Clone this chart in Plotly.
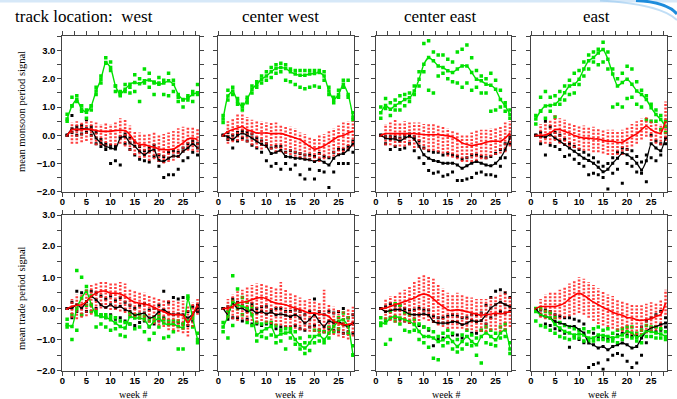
import plotly.graph_objects as go

weeks = list(range(1, 29))
locations = ["west", "center west", "center east", "east"]
x_tick_vals = [0, 2.5, 5, 7.5, 10, 12.5, 15, 17.5, 20, 22.5, 25, 27.5]
x_tick_text = ["0", "", "5", "", "10", "", "15", "", "20", "", "25", ""]
y_tick_vals = [-2, -1.5, -1, -0.5, 0, 0.5, 1, 1.5, 2, 2.5, 3, 3.5]
y_tick_text = ["\u22122.0", "", "\u22121.0", "", "0.0", "", "1.0", "", "2.0", "", "3.0", ""]

# ---------------- monsoon period, west
M_W_green = [0.58,1.04,1.27,0.92,0.82,1.04,1.57,1.99,2.58,2.40,1.75,1.45,1.63,1.81,1.87,1.83,1.93,1.96,1.89,1.81,1.85,1.93,1.81,1.45,1.27,1.33,1.45,1.51]
M_W_green_lo = [0.5,1.05,1.2,0.85,0.6,0.9,1.45,1.85,2.55,2.3,1.55,1.4,1.55,1.5,1.55,1.2,1.85,1.7,1.45,1.85,1.45,1.4,1.55,1.2,1.0,1.25,1.2,1.45]
M_W_green_hi = [0.75,1.35,1.4,1.05,0.9,1.05,1.7,2.1,2.75,2.6,1.75,1.55,1.8,1.7,2.15,2.0,2.35,2.2,1.85,2.05,1.95,2.2,1.95,1.35,1.25,1.4,1.55,1.8]
M_W_red = [0,0.2,0.2,0.2,0.22,0.2,0.17,0.14,0.14,0.14,0.17,0.18,0.17,0.02,-0.21,-0.33,-0.33,-0.39,-0.42,-0.49,-0.51,-0.51,-0.49,-0.39,-0.27,-0.13,-0.1,-0.15]
M_W_red_lo = [-0.05,-0.3,-0.3,-0.25,-0.2,-0.3,-0.35,-0.35,-0.4,-0.35,-0.35,-0.3,-0.4,-0.55,-0.7,-0.8,-0.8,-0.9,-0.85,-0.95,-1.0,-0.95,-0.9,-0.8,-0.6,-0.55,-0.55,-0.6]
M_W_red_hi = [0.05,0.45,0.5,0.5,0.55,0.5,0.45,0.4,0.45,0.4,0.45,0.6,0.55,0.35,0.15,0.1,0.05,0.05,0.1,0.0,0.05,0.1,0.15,0.25,0.3,0.3,0.3,0.25]
M_W_black = [0.0,0.23,0.20,0.23,0.23,0.20,-0.10,-0.27,-0.39,-0.45,-0.49,-0.10,-0.04,-0.27,-0.39,-0.57,-0.69,-0.57,-0.51,-0.89,-0.93,-0.81,-0.73,-0.75,-0.57,-0.45,-0.30,-0.45]
M_W_black_lo = [0,0.1,0.0,0.05,0.1,0.0,-0.3,-0.4,-0.5,-1.0,-0.9,-1.05,-0.3,-0.5,-0.7,-0.85,-0.9,-0.95,-0.75,-1.1,-1.5,-1.4,-1.4,-1.2,-0.9,-0.8,-0.6,-0.7]
M_W_black_hi = [0,0.7,0.3,0.35,0.55,0.3,0.1,-0.15,-0.3,-0.35,-0.4,-0.05,0.05,-0.1,-0.25,-0.4,-0.55,-0.45,-0.35,-0.7,-0.75,-0.6,-0.55,-0.6,-0.45,-0.3,-0.2,-0.3]

# ---------------- monsoon period, center west
M_CW_green = [0.58,1.39,1.57,1.21,1.01,1.27,1.63,1.81,1.99,2.10,2.25,2.37,2.40,2.37,2.25,2.17,2.13,2.13,2.17,2.19,2.23,2.10,1.57,1.27,1.45,1.81,1.45,0.65]
M_CW_green_lo = [0.45,1.25,1.45,1.1,0.9,1.15,1.5,1.7,1.85,1.95,2.05,2.2,2.25,1.95,1.9,1.8,1.7,1.65,1.7,1.75,1.7,1.95,1.45,1.15,1.35,1.7,1.35,0.55]
M_CW_green_hi = [0.7,1.6,1.7,1.3,1.1,1.35,1.75,1.9,2.1,2.25,2.4,2.5,2.55,2.5,2.35,2.3,2.3,2.3,2.3,2.3,2.3,2.25,1.7,1.35,1.6,1.95,1.95,0.8]
M_CW_red = [0,0.14,0.2,0.26,0.3,0.2,0.14,0.08,0.08,0.08,0.06,0.06,0.06,0.02,-0.04,-0.1,-0.15,-0.27,-0.39,-0.49,-0.45,-0.37,-0.27,-0.15,-0.04,-0.01,0.08,0.14]
M_CW_red_lo = [-0.05,-0.3,-0.25,-0.2,-0.2,-0.25,-0.35,-0.45,-0.5,-0.45,-0.5,-0.6,-0.6,-0.65,-0.7,-0.75,-0.8,-0.85,-0.9,-0.95,-0.95,-0.85,-0.8,-0.75,-0.7,-0.6,-0.5,-0.4]
M_CW_red_hi = [0.05,0.5,0.6,0.75,0.8,0.65,0.55,0.5,0.5,0.45,0.45,0.45,0.35,0.35,0.3,0.25,0.1,0.05,-0.05,-0.1,0.0,0.05,0.15,0.25,0.35,0.45,0.5,0.5]
M_CW_black = [0,-0.04,-0.15,-0.01,0.08,0,-0.1,-0.21,-0.33,-0.39,-0.65,-0.6,-0.54,-0.75,-0.77,-0.81,-0.81,-0.85,-0.87,-0.93,-0.87,-0.96,-1.05,-0.81,-0.69,-0.65,-0.51,-0.3]
M_CW_black_lo = [0,-0.15,-0.45,-0.2,-0.1,-0.2,-0.35,-0.45,-0.6,-0.9,-1.1,-1.0,-1.2,-1.0,-1.2,-1.05,-1.4,-1.55,-1.2,-1.55,-1.25,-1.3,-1.85,-1.3,-1.0,-1.0,-1.0,-0.6]
M_CW_black_hi = [0,0.1,0.0,0.1,0.15,0.1,0.05,-0.1,-0.2,-0.3,-0.45,-0.4,-0.4,-0.6,-0.55,-0.6,-0.65,-0.7,-0.7,-0.75,-0.65,-0.75,-0.8,-0.6,-0.5,-0.5,-0.4,-0.2]

# ---------------- monsoon period, center east
M_CE_green = [0.8,1.06,0.92,1.06,1.15,1.27,1.33,1.57,1.99,2.52,2.76,2.64,2.46,2.40,2.29,2.23,2.35,2.46,2.46,2.23,1.99,1.93,1.81,1.77,1.63,1.27,1.04,0.74]
M_CE_green_lo = [0.6,0.95,0.7,0.9,0.9,1.05,1.2,1.45,1.75,2.25,1.6,1.5,2.1,2.2,2.0,1.9,1.85,1.7,1.85,1.6,1.7,1.5,1.5,0.85,0.9,1.0,0.85,0.6]
M_CE_green_hi = [1.0,1.3,1.15,1.25,1.4,1.45,1.5,1.75,2.25,3.25,3.35,2.95,2.85,2.85,2.7,2.6,2.95,3.05,3.2,2.75,2.3,2.1,2.0,2.2,1.95,1.6,1.15,0.9]
M_CE_red = [0,0.06,0.06,0.06,0.06,0.06,0.06,0.06,0.04,0.02,0.02,0.02,0.02,0.0,-0.02,-0.06,-0.15,-0.27,-0.33,-0.37,-0.33,-0.30,-0.25,-0.21,-0.21,-0.21,-0.10,0.08]
M_CE_red_lo = [-0.05,-0.35,-0.35,-0.4,-0.4,-0.4,-0.35,-0.45,-0.45,-0.5,-0.55,-0.55,-0.6,-0.65,-0.75,-0.8,-0.85,-0.95,-0.95,-0.95,-0.9,-0.85,-0.85,-0.75,-0.7,-0.65,-0.6,-0.4]
M_CE_red_hi = [0.05,0.4,0.45,0.55,0.45,0.5,0.45,0.45,0.45,0.4,0.4,0.4,0.35,0.3,0.25,0.2,0.1,0.05,0.05,0.1,0.2,0.2,0.2,0.25,0.25,0.3,0.45,0.5]
M_CE_black = [0,-0.1,-0.13,-0.13,-0.21,-0.1,-0.04,-0.15,-0.39,-0.69,-0.81,-0.89,-0.93,-0.99,-0.99,-0.99,-1.05,-1.17,-1.08,-0.99,-0.93,-0.99,-1.05,-1.08,-0.99,-0.81,-0.51,-0.1]
M_CE_black_lo = [0,-0.3,-0.5,-0.4,-0.5,-0.45,-0.3,-0.55,-0.8,-1.0,-1.25,-1.35,-1.3,-1.45,-1.4,-1.3,-1.6,-1.6,-1.55,-1.5,-1.35,-1.3,-1.4,-1.4,-1.45,-1.1,-0.8,-0.3]
M_CE_black_hi = [0,-0.05,-0.05,-0.05,-0.1,0.0,0.05,-0.05,-0.2,-0.45,-0.55,-0.6,-0.6,-0.7,-0.65,-0.7,-0.75,-0.85,-0.8,-0.7,-0.7,-0.75,-0.8,-0.75,-0.65,-0.5,-0.3,0.0]

# ---------------- monsoon period, east
M_E_green = [0.58,0.86,1.04,1.06,1.10,1.27,1.51,1.75,1.81,1.99,2.35,2.64,2.76,2.92,3.04,2.70,2.17,1.75,1.87,1.99,1.81,1.57,1.45,1.27,0.98,0.74,0.56,0.32]
M_E_green_lo = [0.4,0.85,0.6,0.85,0.65,1.1,1.25,1.45,1.5,1.8,2.1,2.35,2.6,2.5,2.6,2.35,1.0,1.1,1.0,1.3,1.35,1.1,1.0,0.55,0.5,0.5,0.2,0.1]
M_E_green_hi = [0.7,1.35,1.55,1.35,1.4,1.55,1.75,1.95,2.2,2.3,2.6,2.85,2.95,3.05,3.3,2.95,2.35,2.0,2.2,2.45,2.35,1.9,1.6,1.4,1.1,0.9,0.7,0.5]
M_E_red = [0,-0.01,0.02,0.08,0.20,0.20,0.14,0.08,-0.01,-0.06,-0.10,-0.10,-0.13,-0.13,-0.18,-0.21,-0.21,-0.25,-0.25,-0.15,-0.04,0.05,0.2,0.33,0.2,0.1,0.08,0.5]
M_E_red_lo = [-0.05,-0.25,-0.3,-0.3,-0.2,-0.3,-0.35,-0.4,-0.45,-0.5,-0.55,-0.55,-0.6,-0.6,-0.65,-0.7,-0.7,-0.7,-0.7,-0.55,-0.4,-0.3,-0.15,-0.05,-0.2,-0.3,-0.35,-0.2]
M_E_red_hi = [0.05,0.4,0.45,0.55,0.7,0.6,0.55,0.45,0.4,0.35,0.35,0.3,0.3,0.25,0.2,0.2,0.2,0.15,0.2,0.3,0.4,0.5,0.6,0.65,0.55,0.45,0.4,1.2]
M_E_black = [0,-0.04,-0.06,0.02,-0.1,-0.21,-0.33,-0.45,-0.57,-0.69,-0.81,-0.89,-0.99,-1.13,-1.29,-1.2,-0.99,-0.81,-0.63,-0.69,-0.81,-0.99,-1.23,-0.9,-0.3,-0.45,-0.55,-0.1]
M_E_black_lo = [0,-0.3,-0.7,-0.35,-0.4,-0.5,-0.75,-0.7,-0.85,-1.0,-1.1,-1.4,-1.35,-1.4,-1.5,-1.9,-1.35,-1.2,-1.7,-1.0,-1.1,-1.3,-1.35,-1.65,-0.8,-0.9,-0.7,-0.3]
M_E_black_hi = [0,0.1,0.5,0.3,0.1,0.0,-0.15,-0.3,-0.4,-0.5,-0.6,-0.7,-0.8,-0.95,-1.1,-1.0,-0.8,-0.6,-0.45,-0.5,-0.55,-0.75,-0.95,-0.7,0.0,-0.2,-0.3,0.3]

# ---------------- trade period, west
T_W_green = [-0.52,-0.58,0.0,0.33,0.55,0.12,-0.2,-0.26,-0.29,-0.36,-0.47,-0.58,-0.63,-0.26,-0.31,-0.31,-0.36,-0.58,-0.42,-0.31,-0.47,-0.52,-0.50,-0.58,-0.63,0.33,-0.31,-1.0]
T_W_green_lo = [-0.6,-1.0,-0.7,-0.2,0.1,-0.1,-0.6,-0.5,-0.6,-0.7,-0.65,-0.85,-0.9,-0.5,-0.65,-0.6,-0.75,-1.0,-0.8,-0.6,-0.95,-0.9,-0.75,-1.3,-1.3,-0.4,-0.6,-1.1]
T_W_green_hi = [-0.35,-0.2,1.22,1.0,0.7,0.4,-0.1,-0.2,-0.2,-0.25,-0.3,-0.4,-0.45,-0.15,-0.2,-0.2,-0.25,-0.4,-0.3,-0.2,-0.35,-0.4,-0.4,-0.4,-0.5,0.4,-0.2,-0.8]
T_W_red = [0,0.06,0.1,0.12,0.22,0.39,0.49,0.55,0.55,0.49,0.49,0.46,0.39,0.28,0.2,0.17,0.14,0.1,0.03,-0.04,-0.1,-0.18,-0.2,-0.2,-0.22,-0.47,-0.2,0.12]
T_W_red_lo = [-0.05,-0.3,-0.35,-0.3,-0.25,-0.2,-0.05,0.0,0.0,-0.05,-0.05,-0.1,-0.15,-0.25,-0.3,-0.35,-0.4,-0.45,-0.5,-0.55,-0.6,-0.7,-0.7,-0.75,-0.8,-0.9,-0.6,-0.2]
T_W_red_hi = [0.05,0.3,0.45,0.45,0.6,0.75,0.85,0.9,0.85,0.8,0.85,0.85,0.8,0.65,0.6,0.55,0.5,0.45,0.4,0.35,0.3,0.3,0.25,0.25,0.25,0.1,0.2,0.3]
T_W_black = [0,0.01,0.12,0.01,0.22,0.39,0.28,0.12,0.03,0.12,0.01,0.06,-0.04,-0.1,-0.22,-0.18,-0.15,-0.31,-0.26,-0.1,-0.04,-0.15,-0.2,-0.18,-0.2,-0.31,-0.18,0.01]
T_W_black_lo = [0,-0.3,-0.1,-0.2,-0.1,0.1,0.0,-0.2,-0.3,-0.2,-0.35,-0.3,-0.4,-0.5,-0.55,-0.45,-0.4,-0.6,-0.5,-0.4,-0.3,-0.4,-0.5,-0.45,-0.5,-0.55,-0.4,-0.1]
T_W_black_hi = [0,0.2,0.55,0.5,0.55,0.55,0.5,0.4,0.3,0.4,0.25,0.35,0.2,0.1,0.0,0.1,0.15,-0.05,0.0,0.1,0.55,0.2,0.35,0.3,0.35,-0.1,0.05,0.1]

# ---------------- trade period, center west
T_CW_green = [-0.6,-0.26,0.22,0.12,0.06,0.01,-0.2,-0.85,-0.74,-0.65,-0.58,-0.9,-0.82,-0.79,-0.76,-1.0,-1.17,-1.27,-1.11,-0.9,-0.85,-1.0,-0.79,-0.58,-0.42,-0.36,-0.58,-1.49]
T_CW_green_lo = [-0.75,-0.95,-0.55,0.0,-0.2,-0.45,-0.55,-1.05,-0.9,-0.95,-0.85,-1.1,-1.05,-1.3,-0.95,-1.15,-1.3,-1.45,-1.35,-1.1,-1.05,-1.1,-0.95,-0.75,-0.65,-0.5,-0.8,-1.5]
T_CW_green_hi = [-0.45,-0.1,1.05,0.62,0.35,0.2,0.05,-0.45,-0.5,-0.45,-0.45,-0.55,-0.7,-0.65,-0.65,-0.75,-0.95,-1.1,-0.9,-0.7,-0.7,-0.75,-0.6,-0.4,-0.3,-0.15,-0.3,-1.2]
T_CW_red = [0,0.01,0.06,0.17,0.2,0.22,0.28,0.33,0.35,0.31,0.22,0.17,0.14,0.12,0.06,0.01,-0.04,-0.1,-0.15,-0.15,-0.18,-0.2,-0.26,-0.42,-0.47,-0.52,-0.52,-0.47]
T_CW_red_lo = [-0.05,-0.3,-0.35,-0.4,-0.35,-0.4,-0.4,-0.45,-0.4,-0.45,-0.5,-0.55,-0.55,-0.6,-0.6,-0.65,-0.7,-0.7,-0.75,-0.75,-0.8,-0.8,-0.85,-0.85,-0.9,-0.95,-1.0,-0.9]
T_CW_red_hi = [0.05,0.3,0.45,0.55,0.6,0.7,0.75,0.8,0.8,0.75,0.7,0.65,0.85,0.6,0.5,0.45,0.35,0.3,0.3,0.25,0.2,0.6,0.15,0.05,0.0,-0.05,0.0,0.05]
T_CW_black = [0,-0.2,0.17,-0.01,0.01,-0.1,-0.04,-0.15,-0.1,-0.18,-0.12,-0.2,-0.18,-0.22,-0.26,-0.2,-0.31,-0.47,-0.36,-0.2,-0.42,-0.58,-0.4,-0.47,-0.42,-0.52,-0.58,-0.47]
T_CW_black_lo = [0,-0.35,-0.3,-0.3,-0.4,-0.35,-0.5,-0.5,-0.55,-0.5,-0.5,-0.65,-0.6,-0.6,-0.6,-0.55,-0.65,-0.7,-0.6,-0.55,-0.7,-0.75,-0.65,-0.7,-0.75,-0.8,-0.75,-0.8]
T_CW_black_hi = [0,0.05,0.3,0.2,0.1,0.0,0.15,0.0,0.05,0.05,-0.05,0.0,0.0,-0.1,-0.1,-0.05,-0.1,-0.2,-0.1,0.3,-0.1,-0.2,-0.1,-0.15,-0.1,0.0,-0.3,-0.2]

# ---------------- trade period, center east
T_CE_green = [-0.47,-0.47,-0.31,-0.26,-0.31,-0.36,-0.42,-0.52,-0.74,-0.9,-0.9,-0.95,-1.06,-1.01,-0.9,-1.06,-1.22,-1.06,-0.9,-1.06,-1.17,-0.9,-0.79,-0.9,-1.01,-0.79,-0.69,-1.3]
T_CE_green_lo = [-0.55,-1.15,-1.0,-0.4,-0.5,-0.7,-0.75,-0.7,-1.0,-1.1,-1.25,-1.6,-1.65,-1.2,-1.1,-1.3,-1.4,-1.3,-1.15,-1.2,-1.5,-1.75,-1.1,-1.15,-1.2,-0.95,-0.9,-1.45]
T_CE_green_hi = [-0.3,-0.35,-0.1,0.15,0.1,-0.15,-0.2,-0.35,-0.5,-0.6,-0.65,-0.75,-0.9,-0.8,-0.7,-0.8,-1.0,-0.85,-0.7,-0.85,-0.95,-0.7,-0.6,-0.7,-0.8,-0.6,-0.5,-1.1]
T_CE_red = [0,0.01,0.06,0.12,0.17,0.22,0.28,0.33,0.42,0.46,0.42,0.31,0.17,0.06,-0.04,-0.07,-0.04,-0.07,-0.1,-0.15,-0.18,-0.22,-0.2,-0.18,-0.15,-0.18,-0.15,-0.1]
T_CE_red_lo = [-0.05,-0.35,-0.4,-0.45,-0.45,-0.45,-0.5,-0.45,-0.4,-0.35,-0.4,-0.45,-0.55,-0.6,-0.65,-0.65,-0.65,-0.65,-0.7,-0.7,-0.75,-0.75,-0.75,-0.7,-0.7,-0.75,-0.7,-0.6]
T_CE_red_hi = [0.05,0.3,0.4,0.45,0.55,0.6,0.7,0.85,1.0,1.1,1.05,0.95,0.8,0.65,0.5,0.45,0.5,0.45,0.4,0.35,0.3,0.3,0.3,0.35,0.4,0.5,0.55,0.4]
T_CE_black = [0,-0.1,-0.07,-0.04,-0.04,-0.1,-0.18,-0.2,-0.2,-0.18,-0.22,-0.42,-0.47,-0.47,-0.47,-0.42,-0.44,-0.52,-0.47,-0.39,-0.42,-0.39,-0.2,0.01,0.12,0.2,0.12,0.06]
T_CE_black_lo = [0,-0.4,-0.3,-0.3,-0.35,-0.4,-0.45,-0.5,-0.55,-0.6,-0.7,-1.2,-1.0,-0.95,-0.9,-0.85,-0.85,-0.95,-0.9,-0.8,-0.8,-0.7,-0.5,-0.3,-0.2,-0.1,-0.15,-0.1]
T_CE_black_hi = [0,0.05,0.15,0.1,0.1,0.0,-0.05,-0.05,0.0,-0.05,-0.05,-0.25,-0.3,-0.3,-0.25,-0.2,-0.25,-0.3,-0.3,-0.2,-0.2,-0.15,0.1,0.35,0.55,0.6,0.5,0.35]

# ---------------- trade period, east
T_E_green = [-0.1,-0.2,-0.26,-0.31,-0.52,-0.63,-0.74,-0.79,-0.85,-0.82,-0.85,-0.95,-0.95,-0.85,-0.87,-0.9,-0.95,-0.9,-0.85,-0.74,-0.79,-0.93,-0.85,-0.74,-0.74,-0.79,-0.82,-0.9]
T_E_green_lo = [-0.4,-0.55,-0.6,-0.7,-0.8,-0.9,-0.95,-1.0,-0.95,-0.95,-1.05,-1.05,-1.05,-1.0,-1.0,-1.05,-1.05,-1.1,-1.0,-0.9,-0.95,-1.05,-1.1,-0.9,-0.9,-0.95,-0.95,-1.0]
T_E_green_hi = [0.0,0.0,-0.1,-0.15,-0.3,-0.45,-0.55,-0.6,-0.65,-0.7,-0.65,-0.75,-0.65,-0.6,-0.7,-0.65,-0.8,-0.7,-0.65,-0.6,-0.6,-0.8,-0.7,-0.55,-0.6,-0.6,-0.65,-0.75]
T_E_red = [0,0.06,0.06,0.06,0.06,0.1,0.17,0.31,0.42,0.49,0.42,0.31,0.2,0.12,0.03,-0.04,-0.12,-0.18,-0.22,-0.29,-0.31,-0.36,-0.39,-0.36,-0.33,-0.26,-0.2,0.17]
T_E_red_lo = [-0.05,-0.3,-0.35,-0.35,-0.35,-0.35,-0.3,-0.25,-0.2,-0.15,-0.2,-0.3,-0.4,-0.5,-0.55,-0.6,-0.65,-0.7,-0.75,-0.8,-0.85,-0.85,-0.85,-0.8,-0.75,-0.7,-0.6,-0.2]
T_E_red_hi = [0.05,0.3,0.45,0.5,0.55,0.6,0.7,0.8,0.9,1.0,0.95,0.85,0.75,0.65,0.55,0.45,0.4,0.3,0.25,0.2,0.15,0.1,0.1,0.15,0.2,0.2,0.3,0.6]
T_E_black = [0,-0.2,-0.26,-0.31,-0.42,-0.47,-0.52,-0.58,-0.58,-0.68,-0.79,-1.11,-1.17,-1.27,-1.22,-1.33,-1.22,-1.17,-1.11,-1.17,-1.27,-1.22,-0.95,-0.74,-0.63,-0.58,-0.52,-0.47]
T_E_black_lo = [0,-0.55,-0.5,-0.55,-0.65,-0.7,-0.8,-1.25,-0.9,-1.0,-1.1,-1.9,-1.8,-1.75,-1.95,-1.65,-1.5,-1.45,-1.5,-1.7,-1.9,-1.75,-1.5,-1.1,-0.9,-0.75,-0.7,-0.6]
T_E_black_hi = [0,-0.05,-0.05,-0.1,-0.2,-0.25,-0.3,-0.3,-0.35,-0.4,-0.5,-0.75,-0.8,-0.9,-0.95,-1.0,-0.95,-0.85,-0.8,-0.85,-0.9,-0.9,-0.6,-0.4,-0.3,-0.2,-0.1,-0.3]

panels = [
    (M_W_green, M_W_green_lo, M_W_green_hi, M_W_red, M_W_red_lo, M_W_red_hi, M_W_black, M_W_black_lo, M_W_black_hi),
    (M_CW_green, M_CW_green_lo, M_CW_green_hi, M_CW_red, M_CW_red_lo, M_CW_red_hi, M_CW_black, M_CW_black_lo, M_CW_black_hi),
    (M_CE_green, M_CE_green_lo, M_CE_green_hi, M_CE_red, M_CE_red_lo, M_CE_red_hi, M_CE_black, M_CE_black_lo, M_CE_black_hi),
    (M_E_green, M_E_green_lo, M_E_green_hi, M_E_red, M_E_red_lo, M_E_red_hi, M_E_black, M_E_black_lo, M_E_black_hi),
    (T_W_green, T_W_green_lo, T_W_green_hi, T_W_red, T_W_red_lo, T_W_red_hi, T_W_black, T_W_black_lo, T_W_black_hi),
    (T_CW_green, T_CW_green_lo, T_CW_green_hi, T_CW_red, T_CW_red_lo, T_CW_red_hi, T_CW_black, T_CW_black_lo, T_CW_black_hi),
    (T_CE_green, T_CE_green_lo, T_CE_green_hi, T_CE_red, T_CE_red_lo, T_CE_red_hi, T_CE_black, T_CE_black_lo, T_CE_black_hi),
    (T_E_green, T_E_green_lo, T_E_green_hi, T_E_red, T_E_red_lo, T_E_red_hi, T_E_black, T_E_black_lo, T_E_black_hi),
]
for i, p in enumerate(panels):
    for j, arr in enumerate(p):
        assert len(arr) == 28, (i, j, len(arr))

W, H = 677, 399
col_x0 = [62.3, 218.3, 376.0, 531.0]
col_x1 = [199.0, 354.4, 511.4, 667.0]
row_y = [(36.0, 191.7), (215.0, 370.7)]
y_top = [3.52, 3.0]

GREEN = "rgb(0,225,0)"
RED = "rgb(255,0,0)"
PINK = "rgba(255,30,30,0.85)"
AXC = "#444444"

fig = go.Figure()

def columns(lo, hi):
    xs, ys = [], []
    for w, a, b in zip(weeks, lo, hi):
        xs += [w, w, None]
        ys += [a, b, None]
    return xs, ys

for k, p in enumerate(panels):
    g, glo, ghi, r, rlo, rhi, b, blo, bhi = p
    sfx = "" if k == 0 else str(k + 1)
    xa, ya = "x" + sfx, "y" + sfx
    fig.add_trace(go.Scatter(x=weeks * 3, y=blo + b + bhi, mode="markers", xaxis=xa, yaxis=ya,
                             marker=dict(symbol="square", size=3, color="black"), showlegend=False))
    fig.add_trace(go.Scatter(x=weeks * 3, y=glo + g + ghi, mode="markers", xaxis=xa, yaxis=ya,
                             marker=dict(symbol="square", size=3.5, color=GREEN), showlegend=False))
    cx, cy = columns(rlo, rhi)
    fig.add_trace(go.Scatter(x=cx, y=cy, mode="lines", xaxis=xa, yaxis=ya, connectgaps=False,
                             line=dict(color=PINK, width=2.6, dash="2px,1.5px"), showlegend=False))
    fig.add_trace(go.Scatter(x=weeks, y=b, mode="lines", xaxis=xa, yaxis=ya,
                             line=dict(color="black", width=1.3, shape="spline", smoothing=0.5), showlegend=False))
    fig.add_trace(go.Scatter(x=weeks, y=g, mode="lines", xaxis=xa, yaxis=ya,
                             line=dict(color=GREEN, width=1.4, shape="spline", smoothing=0.5), showlegend=False))
    fig.add_trace(go.Scatter(x=weeks, y=r, mode="lines", xaxis=xa, yaxis=ya,
                             line=dict(color=RED, width=1.6, shape="spline", smoothing=0.5), showlegend=False))

layout = dict(width=W, height=H, margin=dict(l=0, r=0, t=0, b=0),
              paper_bgcolor="white", plot_bgcolor="white", showlegend=False)
tickfont = dict(family="Liberation Sans", size=9.5, color="black", weight="bold")
for k in range(8):
    row, col = divmod(k, 4)
    sfx = "" if k == 0 else str(k + 1)
    yt, yb = row_y[row]
    layout["xaxis" + sfx] = dict(
        domain=[col_x0[col] / W, col_x1[col] / W], range=[0, 28.3], anchor="y" + sfx,
        tickmode="array", tickvals=x_tick_vals, ticktext=x_tick_text,
        ticks="outside", ticklen=4, tickwidth=1, tickcolor=AXC, mirror="ticks",
        showline=True, linecolor=AXC, linewidth=1, showgrid=False, zeroline=False,
        tickfont=tickfont, ticklabelstandoff=-3, automargin=False, fixedrange=True)
    layout["yaxis" + sfx] = dict(
        domain=[1 - yb / H, 1 - yt / H], range=[-2, y_top[row]], anchor="x" + sfx,
        tickmode="array", tickvals=y_tick_vals, ticktext=y_tick_text,
        showticklabels=(col == 0),
        ticks="outside", ticklen=4, tickwidth=1, tickcolor=AXC, mirror="ticks",
        showline=True, linecolor=AXC, linewidth=1, showgrid=False, zeroline=False,
        tickfont=tickfont, automargin=False, fixedrange=True)

serif = "Liberation Serif"
ann = []
ann.append(dict(text="track location:\u00a0 " + locations[0], x=12.7 / W, y=1 - 17 / H, xref="paper", yref="paper",
                xanchor="left", yanchor="middle", showarrow=False, font=dict(family=serif, size=17, color="black")))
for cx, name in zip([280.5, 440.0, 596.0], locations[1:]):
    ann.append(dict(text=name, x=cx / W, y=1 - 17 / H, xref="paper", yref="paper",
                    xanchor="center", yanchor="middle", showarrow=False, font=dict(family=serif, size=17, color="black")))
ann.append(dict(text="mean monsoon period signal", x=21 / W, y=1 - 112 / H, xref="paper", yref="paper",
                textangle=-90, xanchor="center", yanchor="middle", showarrow=False,
                font=dict(family=serif, size=10.5, color="black")))
ann.append(dict(text="mean trade period signal", x=21 / W, y=1 - 298 / H, xref="paper", yref="paper",
                textangle=-90, xanchor="center", yanchor="middle", showarrow=False,
                font=dict(family=serif, size=10.5, color="black")))
for c in range(4):
    cx = (col_x0[c] + col_x1[c]) / 2 + 3
    ann.append(dict(text="week #", x=cx / W, y=1 - 394 / H, xref="paper", yref="paper",
                    xanchor="center", yanchor="middle", showarrow=False,
                    font=dict(family=serif, size=10, color="black")))
layout["annotations"] = ann

layout["shapes"] = [
    dict(type="rect", xref="paper", yref="paper", x0=0, x1=1, y0=1 - 2.5 / H, y1=1,
         fillcolor="rgb(214,232,248)", line=dict(width=0), layer="below"),
    dict(type="path", xref="paper", yref="paper",
         path="M %.4f,%.4f Q %.4f,%.4f %.4f,%.4f" % (636 / W, 1 - 0.5 / H, 667 / W, 1 - 2 / H, 677 / W, 1 - 14 / H),
         line=dict(color="rgb(30,140,220)", width=3)),
    dict(type="path", xref="paper", yref="paper",
         path="M %.4f,%.4f Q %.4f,%.4f %.4f,%.4f" % (600 / W, 1 - 0.5 / H, 660 / W, 1 - 4 / H, 677 / W, 1 - 20 / H),
         line=dict(color="rgba(150,200,240,0.6)", width=2)),
]

fig.update_layout(**layout)
fig.write_html("out.html", config={"displayModeBar": False},
               post_script="document.body.style.margin='0px';document.body.style.overflow='hidden';")
